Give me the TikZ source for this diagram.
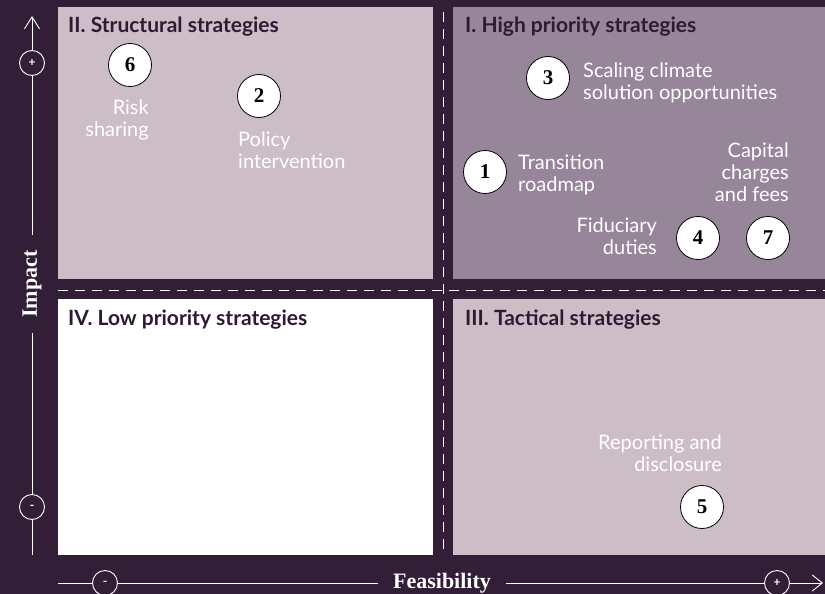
\documentclass[tikz,border=0pt]{standalone}
\usepackage{fontspec}
\setmainfont{Lato}
\newfontfamily\serifb{Liberation Serif}
\usetikzlibrary{arrows.meta}
\definecolor{bg}{HTML}{331E38}
\definecolor{lightq}{HTML}{CCBDC7}
\definecolor{darkq}{HTML}{978599}
\definecolor{ttl}{HTML}{2E1A33}
\begin{document}
\begin{tikzpicture}[x=1pt,y=-1pt,
 title/.style={anchor=base west, font=\fontsize{21}{24}\selectfont\bfseries, text=ttl, inner sep=0pt},
 badge/.style={circle, draw=black, fill=white, line width=0.8pt, minimum size=43pt, inner sep=0pt, font=\serifb\bfseries\fontsize{21}{22}\selectfont},
 lab/.style={text=white, font=\fontsize{20}{22}\selectfont, inner sep=0pt},
 axisline/.style={draw=white, line width=0.9pt},
 axc/.style={circle, draw=white, fill=bg, line width=0.9pt, minimum size=25pt, inner sep=0pt, text=white, font=\bfseries\fontsize{12}{12}\selectfont},
 axlab/.style={text=white, font=\serifb\bfseries\fontsize{22}{24}\selectfont, inner xsep=15pt, inner ysep=2pt},
 divider/.style={white, line width=0.9pt, dash pattern=on 10pt off 7pt}
]
\fill[bg] (0,0) rectangle (825,594);
\useasboundingbox (0,0) rectangle (825,594);
% quadrants
\fill[lightq] (58,7) rectangle (433,279);
\fill[darkq] (453,7) rectangle (825,279);
\fill[white] (58,299) rectangle (433,555);
\fill[lightq] (453,299) rectangle (825,555);
% dividers
\draw[divider] (58,290) -- (825,290);
\draw[divider] (443,12) -- (443,555);
% titles
\node[title] (t2) at (68,33) {II. Structural strategies};
\node[title] (t1) at (465,33) {I. High priority strategies};
\node[title] (t4) at (68,325) {IV. Low priority strategies};
\node[title] (t3) at (465,325) {III. Tactical strategies};
% badges
\node[badge] (b6) at (130,65) {6};
\node[badge] (b2) at (259,96) {2};
\node[badge] (b3) at (548,78) {3};
\node[badge] (b1) at (485,172) {1};
\node[badge] (b4) at (698,238) {4};
\node[badge] (b7) at (768,238) {7};
\node[badge] (b5) at (702,507) {5};
% labels
\node[lab, anchor=north east, align=right] (l6) at (149,100) {Risk\\sharing};
\node[lab, anchor=north west, align=left] (l2) at (238,132) {Policy\\intervention};
\node[lab, anchor=north west, align=left] (l3) at (583,63) {Scaling climate\\solution opportunities};
\node[lab, anchor=north west, align=left] (l1) at (518,155) {Transition\\roadmap};
\node[lab, anchor=north east, align=right] (l7) at (789,143) {Capital\\charges\\and fees};
\node[lab, anchor=north east, align=right] (l4) at (657,218) {Fiduciary\\duties};
\node[lab, anchor=north east, align=right] (l5) at (722,435) {Reporting and\\disclosure};
% vertical axis
\node[axc] (vp) at (32,63) {+};
\node[axc] (vm) at (32,507) {-};
\node[axlab, rotate=90] (imp) at (32,284) {Impact};
\coordinate (vt) at (32,16);
\coordinate (vb) at (32,555);
\draw[axisline, -{Straight Barb[length=12pt,width=15pt]}] (vp) -- (vt);
\draw[axisline] (vp) -- (imp);
\draw[axisline] (imp) -- (vm);
\draw[axisline] (vm) -- (vb);
% horizontal axis
\node[axc] (hm) at (105,583) {-};
\node[axc] (hp) at (777,583) {+};
\node[axlab] (feas) at (442,583) {Feasibility};
\coordinate (hl) at (58,583);
\coordinate (hr) at (823,583);
\draw[axisline] (hl) -- (hm);
\draw[axisline] (hm) -- (feas);
\draw[axisline] (feas) -- (hp);
\draw[axisline, -{Straight Barb[length=10pt,width=16pt]}] (hp) -- (hr);
\end{tikzpicture}
\end{document}
